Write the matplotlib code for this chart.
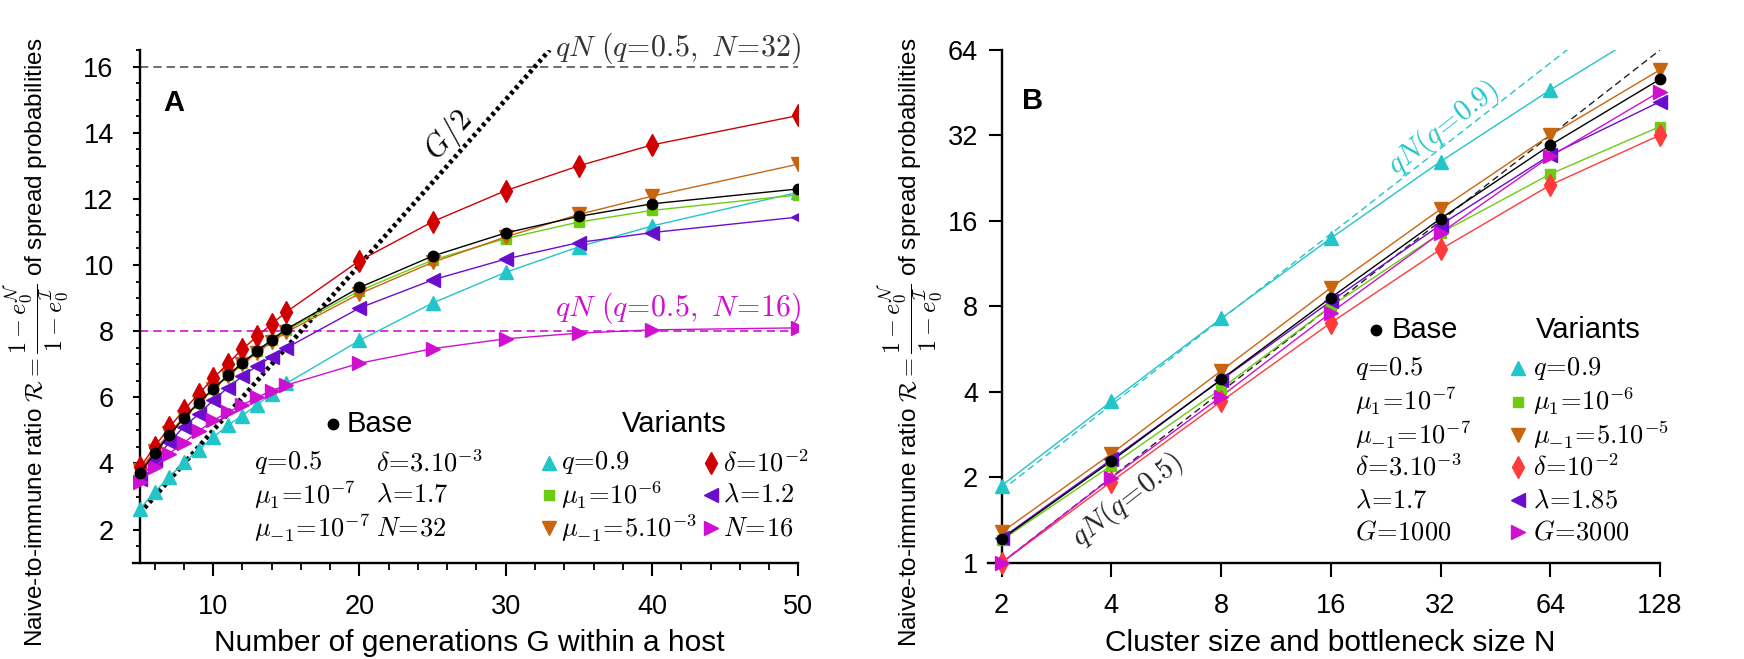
import numpy as np
import matplotlib
matplotlib.use('Agg')
import matplotlib.pyplot as plt
from matplotlib.ticker import FixedLocator, MultipleLocator, FixedFormatter, NullLocator
from matplotlib.lines import Line2D

plt.rcParams['font.family'] = ['Liberation Sans', 'DejaVu Sans']
plt.rcParams['mathtext.fontset'] = 'cm'

# ---------------- data ----------------
G_vals = [5, 6, 7, 8, 9, 10, 11, 12, 13, 14, 15, 20, 25, 30, 35, 40, 50]
A_base = [3.71, 4.31, 4.86, 5.37, 5.83, 6.25, 6.66, 7.04, 7.40, 7.74, 8.06, 9.32, 10.27, 10.97, 11.47, 11.85, 12.30]
A_q09 = [2.63, 3.14, 3.59, 4.03, 4.41, 4.79, 5.15, 5.45, 5.78, 6.10, 6.42, 7.72, 8.85, 9.78, 10.55, 11.18, 12.20]
A_mu1 = [3.75, 4.33, 4.88, 5.38, 5.84, 6.26, 6.66, 7.03, 7.39, 7.72, 8.03, 9.22, 10.15, 10.80, 11.30, 11.65, 12.12]
A_mum1 = [3.80, 4.38, 4.92, 5.40, 5.85, 6.25, 6.63, 7.00, 7.35, 7.67, 7.97, 9.13, 10.08, 10.85, 11.53, 12.08, 13.05]
A_delta = [3.88, 4.51, 5.09, 5.62, 6.10, 6.57, 7.02, 7.46, 7.84, 8.22, 8.58, 10.13, 11.31, 12.25, 13.00, 13.63, 14.52]
A_lambda = [3.52, 4.09, 4.64, 5.11, 5.49, 5.91, 6.29, 6.64, 6.95, 7.23, 7.49, 8.70, 9.55, 10.18, 10.68, 10.98, 11.45]
A_N16 = [3.45, 3.88, 4.30, 4.63, 4.97, 5.30, 5.55, 5.77, 6.00, 6.20, 6.37, 7.03, 7.47, 7.77, 7.94, 8.04, 8.10]
A_G_line = [5, 33]          # G/2 reference
A_qN32 = 16.0
A_qN16 = 8.0

N_vals = [2, 4, 8, 16, 32, 64, 128]
B_base = [1.21, 2.28, 4.42, 8.58, 16.3, 29.6, 50.5]
B_q09 = [1.87, 3.70, 7.25, 13.9, 25.9, 46.3, 80.0]
B_mu1 = [1.20, 2.20, 4.10, 8.00, 14.5, 23.4, 34.4]
B_mum1 = [1.28, 2.42, 4.74, 9.30, 17.6, 32.1, 54.5]
B_delta = [1.00, 1.93, 3.70, 7.00, 12.7, 21.4, 32.1]
B_lambda = [1.22, 2.31, 4.40, 8.34, 15.5, 27.3, 42.1]
B_G3000 = [1.00, 1.99, 3.85, 7.60, 14.5, 27.0, 45.7]
q_base, q_var = 0.5, 0.9

A_xticks = [10, 20, 30, 40, 50]
A_yticks = [2, 4, 6, 8, 10, 12, 14, 16]
B_ticks = [2, 4, 8, 16, 32, 64, 128]
B_yticks = [1, 2, 4, 8, 16, 32, 64]

C_base = 'black'
C_q = '#22c5c8'
C_mu1 = '#6ccc10'
C_mum1 = '#c8660f'
C_delA = '#d00000'
C_delB = '#ff3b3b'
C_lam = '#6a0dcc'
C_mag = '#d010d0'

W, H = 1744, 659
fig = plt.figure(figsize=(W / 100, H / 100), dpi=100)


def fb(l, t, r, b):
    return [l / W, 1 - b / H, (r - l) / W, (b - t) / H]


def ftxt(x, y, s, **kw):
    return fig.text(x / W, 1 - y / H, s, **kw)


def fmark(x, y, **kw):
    fig.add_artist(Line2D([x / W], [1 - y / H], transform=fig.transFigure, ls='none', **kw))


axA = fig.add_axes(fb(133, 50, 798.3, 562.7))
axB = fig.add_axes(fb(988, 50, 1660, 562.7))

LW = 1.0
MS_T, MS_D, MS_S, MS_O = 10, 11, 7, 7.5
styleA = [
    (A_q09, C_q, '^', MS_T),
    (A_mu1, C_mu1, 's', MS_S),
    (A_mum1, C_mum1, 'v', MS_T),
    (A_delta, C_delA, 'd', MS_D),
    (A_lambda, C_lam, '<', MS_T),
    (A_N16, C_mag, '>', MS_T),
    (A_base, C_base, 'o', MS_O),
]
# reference lines
axA.hlines(A_qN32, G_vals[0], G_vals[-1], colors='#555555', linestyles=(0, (5, 3)), lw=1.2)
axA.hlines(A_qN16, G_vals[0], G_vals[-1], colors=C_mag, linestyles=(0, (5, 3)), lw=1.2)
gl = np.array(A_G_line, dtype=float)
axA.plot(gl, gl / 2, color='black', lw=3.4, ls=(0, (0.75, 0.75)), zorder=3)
for ys, c, m, ms in styleA:
    axA.plot(G_vals, ys, color=c, lw=LW, marker=m, ms=ms, mec=c, mfc=c, zorder=4)

axA.set_xlim(4.52, 50)
axA.set_ylim(1, 16.5)
axA.spines['left'].set_position(('data', 5))
for s in ['top', 'right']:
    axA.spines[s].set_visible(False)
for s in ['left', 'bottom']:
    axA.spines[s].set_linewidth(1.7)
axA.xaxis.set_major_locator(FixedLocator(A_xticks))
axA.xaxis.set_minor_locator(MultipleLocator(2))
axA.yaxis.set_major_locator(FixedLocator(A_yticks))
axA.yaxis.set_minor_locator(MultipleLocator(0.5))
axA.tick_params(axis='x', which='major', length=9.4, width=1.5, pad=13, labelsize=19.5)
axA.tick_params(axis='x', which='minor', length=5, width=1.3)
axA.tick_params(axis='y', which='major', length=5, width=1.5, pad=14, labelsize=19.5)
axA.tick_params(axis='y', which='minor', length=3, width=1.3)

# panel B
styleB = [
    (B_q09, C_q, '^', MS_T),
    (B_mu1, C_mu1, 's', MS_S),
    (B_mum1, C_mum1, 'v', MS_T),
    (B_delta, C_delB, 'd', MS_D),
    (B_lambda, C_lam, '<', MS_T),
    (B_G3000, C_mag, '>', MS_T),
    (B_base, C_base, 'o', MS_O),
]
nv = np.array(N_vals, dtype=float)
axB.plot(nv, q_var * nv, color=C_q, lw=1.0, ls=(0, (5, 3)), zorder=3)
axB.plot(nv, q_base * nv, color='#222222', lw=1.0, ls=(0, (5, 3)), zorder=3)
for ys, c, m, ms in styleB:
    ya = np.array(ys)
    axB.plot(nv, ya, color=c, lw=LW, zorder=4)
    inside = ya <= 64
    axB.plot(nv[inside], ya[inside], ls='none', marker=m, ms=ms, mec=c, mfc=c, zorder=5, clip_on=False)

axB.set_xscale('log', base=2)
axB.set_yscale('log', base=2)
axB.set_xlim(1.835, 128)
axB.set_ylim(1, 64)
axB.spines['left'].set_position(('data', 2))
for s in ['top', 'right']:
    axB.spines[s].set_visible(False)
for s in ['left', 'bottom']:
    axB.spines[s].set_linewidth(1.7)
axB.xaxis.set_major_locator(FixedLocator(B_ticks))
axB.xaxis.set_major_formatter(FixedFormatter([str(t) for t in B_ticks]))
axB.xaxis.set_minor_locator(NullLocator())
axB.yaxis.set_major_locator(FixedLocator(B_yticks))
axB.yaxis.set_major_formatter(FixedFormatter([str(t) for t in B_yticks]))
axB.yaxis.set_minor_locator(NullLocator())
axB.tick_params(axis='x', length=10, width=1.5, pad=11.5, labelsize=19.5)
axB.tick_params(axis='y', length=9.4, width=1.5, pad=7.7, labelsize=19.5)

# axis labels
ylab = (r'Naive-to-immune ratio $\mathcal{R}=\dfrac{1-e_0^{\mathcal{N}}}{1-e_0^{\mathcal{I}}}$'
        r' of spread probabilities')
ftxt(36, 342, ylab, rotation=90, ha='center', va='center', size=17.5)
ftxt(910, 342, ylab, rotation=90, ha='center', va='center', size=17.5)
ftxt(469, 651, 'Number of generations G within a host', ha='center', va='baseline', size=21.5)
ftxt(1330, 651, 'Cluster size and bottleneck size N', ha='center', va='baseline', size=21.5)

# annotations
ftxt(174, 103, 'A', weight='bold', size=21, ha='center', va='center')
ftxt(1033, 101, 'B', weight='bold', size=21, ha='center', va='center')
ftxt(801, 48, r'$qN\ (q\!=\!0.5,\ N\!=\!32)$', ha='right', va='center', size=21.5, color='#333333')
ftxt(801, 308, r'$qN\ (q\!=\!0.5,\ N\!=\!16)$', ha='right', va='center', size=21.5, color=C_mag)
ftxt(449, 136, r'$G/2$', rotation=48, ha='center', va='center', size=22)
ftxt(1443, 128, r'$qN(q\!=\!0.9)$', rotation=38, ha='center', va='center', size=21, color=C_q)
ftxt(1127, 500, r'$qN(q\!=\!0.5)$', rotation=38, ha='center', va='center', size=21, color='#222222')

# legend panel A
LFS = 19
fmark(333, 424, marker='o', ms=MS_O, color='black')
ftxt(347, 424, 'Base', ha='left', va='center', size=21)
ftxt(674, 424, 'Variants', ha='center', va='center', size=21)
rowsA = [462.7, 495, 528.3]
baseA1 = [r'$q\!=\!0.5$', r'$\mu_1\!=\!10^{-7}$', r'$\mu_{-1}\!=\!10^{-7}$']
baseA2 = [r'$\delta\!=\!3.10^{-3}$', r'$\lambda\!=\!1.7$', r'$N\!=\!32$']
varA1 = [(r'$q\!=\!0.9$', C_q, '^', MS_T), (r'$\mu_1\!=\!10^{-6}$', C_mu1, 's', MS_S),
         (r'$\mu_{-1}\!=\!5.10^{-3}$', C_mum1, 'v', MS_T)]
varA2 = [(r'$\delta\!=\!10^{-2}$', C_delA, 'd', MS_D), (r'$\lambda\!=\!1.2$', C_lam, '<', MS_T),
         (r'$N\!=\!16$', C_mag, '>', MS_T)]
for i, y in enumerate(rowsA):
    ftxt(254, y, baseA1[i], ha='left', va='center', size=LFS)
    ftxt(376, y, baseA2[i], ha='left', va='center', size=LFS)
    t, c, m, ms = varA1[i]
    fmark(549, y, marker=m, ms=ms, color=c)
    ftxt(561, y, t, ha='left', va='center', size=LFS)
    t, c, m, ms = varA2[i]
    fmark(711, y, marker=m, ms=ms, color=c)
    ftxt(723, y, t, ha='left', va='center', size=LFS)

# legend panel B
fmark(1376, 330, marker='o', ms=MS_O, color='black')
ftxt(1392, 330, 'Base', ha='left', va='center', size=21)
ftxt(1588, 330, 'Variants', ha='center', va='center', size=21)
rowsB = [368, 401.5, 435, 467, 500, 532]
baseB = [r'$q\!=\!0.5$', r'$\mu_1\!=\!10^{-7}$', r'$\mu_{-1}\!=\!10^{-7}$',
         r'$\delta\!=\!3.10^{-3}$', r'$\lambda\!=\!1.7$', r'$G\!=\!1000$']
varB = [(r'$q\!=\!0.9$', C_q, '^', MS_T), (r'$\mu_1\!=\!10^{-6}$', C_mu1, 's', MS_S),
        (r'$\mu_{-1}\!=\!5.10^{-5}$', C_mum1, 'v', MS_T), (r'$\delta\!=\!10^{-2}$', C_delB, 'd', MS_D),
        (r'$\lambda\!=\!1.85$', C_lam, '<', MS_T), (r'$G\!=\!3000$', C_mag, '>', MS_T)]
for i, y in enumerate(rowsB):
    ftxt(1355, y, baseB[i], ha='left', va='center', size=LFS)
    t, c, m, ms = varB[i]
    fmark(1518, y, marker=m, ms=ms, color=c)
    ftxt(1533, y, t, ha='left', va='center', size=LFS)

fig.savefig('out.png', dpi=100)
